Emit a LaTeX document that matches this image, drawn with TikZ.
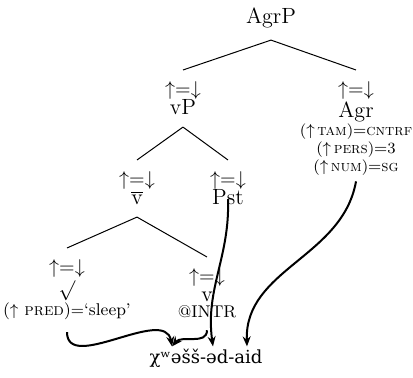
\documentclass[tikz,border=0pt]{standalone}
\usepackage{fontspec}
\newfontfamily\ipafont{DejaVu Serif}
\usetikzlibrary{arrows.meta}
\newcommand{\updn}{{\normalsize${\uparrow}{=}{\downarrow}$}}
\newcommand{\cat}[1]{{\fontsize{11}{9.5}\selectfont #1}}
\newcommand{\fpath}[1]{($\uparrow$\,\textsc{#1})}
\begin{document}
\begin{tikzpicture}[x=0.5pt,y=0.5pt,
  lbl/.style={align=center,inner sep=0pt,outer ysep=6pt,font=\fontsize{8.5}{9.5}\selectfont},
  branch/.style={line width=0.5pt},
  dep/.style={line width=1pt,-{Stealth[length=5pt,width=4pt]}}]
\useasboundingbox (0,0) rectangle (413,378);
\node[lbl] (agrp) at (271,360) {\cat{AgrP}};
\node[lbl,anchor=north] (vp) at (183,308) {\updn\\\cat{vP}};
\node[lbl,anchor=north,font=\fontsize{7.8}{9}\selectfont] (agr) at (356,308) {\updn\\\cat{Agr}\\\fpath{tam}${=}$\textsc{cntrf}\\\fpath{pers}${=}$3\\\fpath{num}${=}$\textsc{sg}};
\node[lbl,anchor=north] (vbar) at (137,218) {\updn\\\cat{$\overline{\mathrm{v}}$}};
\node[lbl,anchor=north] (pst) at (228,218) {\updn\\\cat{Pst}};
\node[lbl,anchor=north] (root) at (67,130) {\updn\\{\fontsize{10}{9.5}\selectfont\smash{\raisebox{-1.5pt}{$\surd$}}}\\[2pt]($\uparrow$~\textsc{pred})${=}$‘sleep’};
\node[lbl,anchor=north] (vhead) at (207,121) {\updn\\\cat{v}\\[-1.5pt]@INTR};
\node[inner sep=1pt,font=\ipafont\fontsize{9}{10}\selectfont] (word) at (206,20) {χʷəšš-əd-aid};
% tree
\draw[branch] (agrp.south) -- (vp.north);
\draw[branch] (agrp.south) -- (agr.north);
\draw[branch] (vp.south) -- (vbar.north);
\draw[branch] (vp.south) -- (pst.north);
\draw[branch] (vbar.south) -- (root.north);
\draw[branch] (vbar.south) -- (vhead.north);
% mapping to the word
\draw[dep] (root.south) to[out=-90,in=100] ([xshift=-17pt]word.north);
\draw[dep] (vhead.south) to[out=-90,in=50] ([xshift=-17pt]word.north);
\draw[dep] ([yshift=9pt]pst.south) to[out=-88,in=98] ([xshift=3.5pt]word.north);
\draw[dep] ([yshift=3pt]agr.south) to[out=-100,in=92] ([xshift=20.5pt]word.north);
\end{tikzpicture}
\end{document}
